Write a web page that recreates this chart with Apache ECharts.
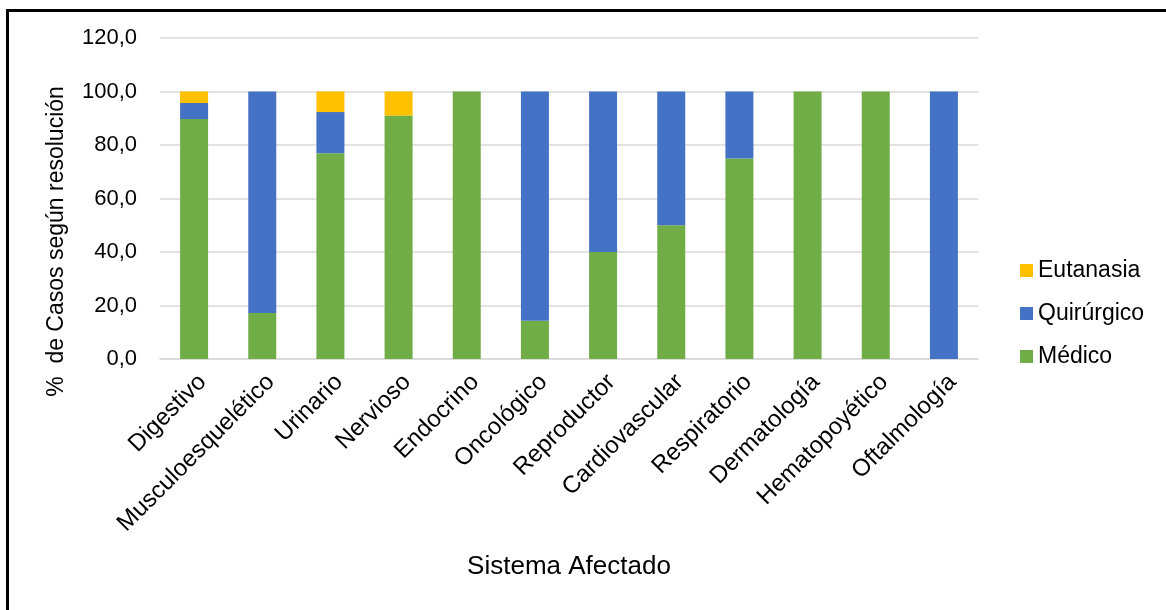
<!DOCTYPE html>
<html>
<head>
<meta charset="utf-8">
<script src="https://cdn.jsdelivr.net/npm/echarts@6/dist/echarts.min.js"></script>
<style>
  html, body { margin: 0; padding: 0; background: #fff; }
  #main { width: 1166px; height: 610px; }
</style>
</head>
<body>
<div id="main"></div>
<script>
// Sistema afectado
const categories = ['Digestivo', 'Musculoesquelético', 'Urinario', 'Nervioso', 'Endocrino', 'Oncológico',
  'Reproductor', 'Cardiovascular', 'Respiratorio', 'Dermatología', 'Hematopoyético', 'Oftalmología'];
// % de casos (lectura aproximada del gráfico)
const medico     = [89.7, 17.2, 76.9, 91.0, 100, 14.3, 40.0, 50.0, 75.0, 100, 100, 0];
const quirurgico = [6.0, 82.8, 15.4, 0, 0, 85.7, 60.0, 50.0, 25.0, 0, 0, 100];
const eutanasia  = [4.3, 0, 7.7, 9.0, 0, 0, 0, 0, 0, 0, 0, 0];

const font = 'Liberation Sans, Arial, sans-serif';
const chart = echarts.init(document.getElementById('main'));

const barSeries = (name, data, color) => ({
  name: name,
  type: 'bar',
  stack: 'total',
  barWidth: 28,
  data: data,
  itemStyle: { color: color },
  emphasis: { disabled: true }
});

chart.setOption({
  animation: false,
  textStyle: { fontFamily: font },
  graphic: [{
    type: 'rect',
    shape: { x: 7.5, y: 10.5, width: 1300, height: 800 },
    style: { fill: 'none', stroke: '#000', lineWidth: 3 }
  }],
  grid: { left: 160, right: 188, top: 38, bottom: 251 },
  legend: {
    orient: 'vertical',
    left: 1015,
    top: 254,
    itemWidth: 13,
    itemHeight: 13,
    itemGap: 20,
    icon: 'rect',
    textStyle: { fontSize: 23, color: '#000', fontFamily: font },
    data: ['Eutanasia', 'Quirúrgico', 'Médico']
  },
  xAxis: {
    type: 'category',
    data: categories,
    name: 'Sistema Afectado',
    nameLocation: 'middle',
    nameGap: 195,
    nameTextStyle: { fontSize: 26, color: '#000' },
    axisLine: { lineStyle: { color: '#d9d9d9', width: 1.5 } },
    axisTick: { show: false },
    axisLabel: { rotate: 45, fontSize: 24, color: '#000', margin: 11, interval: 0, verticalAlign: 'top' }
  },
  yAxis: {
    type: 'value',
    min: 0,
    max: 120,
    interval: 20,
    name: '%  de Casos según resolución',
    nameLocation: 'middle',
    nameGap: 92,
    nameTextStyle: { fontSize: 23, color: '#000', padding: [0, 86, 0, 0] },
    axisLine: { show: false },
    axisTick: { show: false },
    splitLine: { lineStyle: { color: '#d9d9d9', width: 1.5 } },
    axisLabel: {
      fontSize: 22, color: '#000', margin: 23,
      formatter: v => v.toFixed(1).replace('.', ',')
    }
  },
  series: [
    barSeries('Médico', medico, '#70AD47'),
    barSeries('Quirúrgico', quirurgico, '#4472C4'),
    barSeries('Eutanasia', eutanasia, '#FFC000')
  ]
});
</script>
</body>
</html>
